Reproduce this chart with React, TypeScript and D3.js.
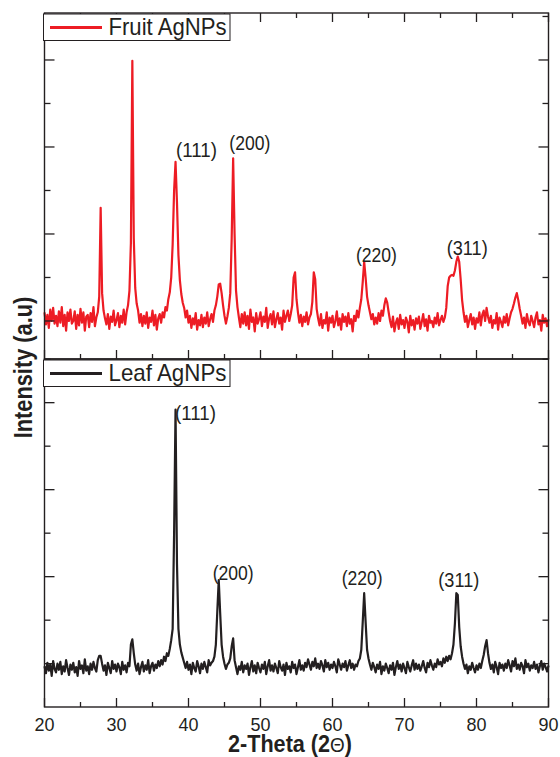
import React from 'react'
import * as d3 from 'd3'

// XRD scans, step 0.2 deg from 20 deg (arbitrary units)
const START_ANGLE = 20
const STEP = 0.2

const fruitCounts = [
  110, 96, 107, 92, 113, 100, 115, 97, 106, 94,
  111, 98, 116, 94, 107, 89, 110, 100, 113, 97,
  100, 111, 91, 107, 95, 114, 98, 110, 89, 105,
  107, 93, 109, 99, 116, 94, 104, 110, 128, 230,
  132, 112, 103, 96, 108, 91, 105, 99, 112, 95,
  101, 109, 93, 106, 98, 113, 96, 110, 118, 135,
  190, 399, 195, 138, 120, 112, 98, 108, 94, 106,
  97, 110, 92, 104, 99, 112, 95, 107, 90, 103,
  108, 98, 110, 104, 116, 112, 125, 133, 150, 188,
  250, 283, 236, 176, 147, 131, 121, 115, 104, 112,
  98, 106, 92, 103, 96, 109, 90, 101, 95, 107,
  93, 104, 97, 110, 94, 102, 108, 99, 112, 118,
  128, 142, 143, 132, 118, 106, 97, 105, 115, 132,
  195, 287, 200, 135, 116, 104, 93, 108, 97, 110,
  95, 106, 91, 113, 99, 104, 88, 109, 97, 102,
  110, 94, 105, 99, 115, 92, 103, 108, 96, 111,
  93, 102, 109, 97, 104, 90, 112, 99, 106, 112,
  100, 108, 118, 150, 156, 125, 110, 98, 107, 94,
  105, 99, 110, 96, 104, 108, 122, 156, 148, 114,
  103, 95, 108, 92, 101, 97, 110, 89, 104, 98,
  106, 93, 100, 111, 95, 103, 90, 108, 99, 105,
  94, 109, 97, 102, 88, 106, 100, 112, 104, 115,
  125, 145, 168, 150, 128, 118, 110, 102, 108, 96,
  104, 97, 109, 100, 112, 106, 118, 126, 121, 110,
  100, 93, 105, 88, 98, 103, 91, 107, 96, 101,
  92, 104, 99, 87, 106, 95, 101, 90, 103, 97,
  105, 91, 99, 108, 94, 102, 89, 106, 98, 100,
  93, 104, 97, 109, 95, 101, 106, 99, 104, 115,
  140, 150, 152, 153, 152, 158, 168, 174, 168, 148,
  124, 110, 99, 106, 93, 101, 108, 96, 104, 91,
  103, 98, 110, 95, 107, 112, 100, 115, 105, 98,
  106, 92, 101, 97, 109, 90, 104, 99, 93, 105,
  98, 108, 95, 103, 110, 114, 120, 127, 132, 124,
  114, 106, 97, 104, 92, 108, 99, 95, 106, 100,
  93, 104, 110, 96, 101, 89, 107, 98, 103, 94,
  102,
]

const leafCounts = [
  97, 89, 101, 92, 99, 86, 103, 94, 90, 100,
  93, 102, 88, 97, 91, 104, 95, 87, 99, 93,
  101, 90, 96, 86, 103, 94, 98, 89, 105, 92,
  97, 88, 100, 93, 102, 95, 91, 104, 109, 109,
  100, 92, 98, 87, 101, 95, 89, 103, 94, 99,
  91, 100, 96, 88, 102, 93, 98, 90, 101, 97,
  122, 128, 112, 99, 92, 100, 88, 96, 102, 91,
  98, 93, 104, 89, 97, 101, 92, 99, 95, 103,
  97, 104, 99, 108, 103, 112, 109, 117, 127, 140,
  250, 392, 215, 140, 122, 113, 107, 101, 95, 102,
  93, 99, 88, 101, 95, 91, 103, 97, 89, 100,
  94, 102, 96, 90, 104, 98, 101, 103, 108, 122,
  160, 196, 158, 122, 108, 100, 94, 99, 101, 106,
  120, 129, 104, 96, 88, 97, 93, 102, 90, 98,
  94, 100, 87, 96, 103, 91, 98, 89, 101, 95,
  90, 99, 94, 102, 88, 97, 104, 92, 98, 91,
  100, 95, 89, 103, 96, 92, 99, 87, 101, 94,
  97, 90, 102, 95, 99, 88, 96, 104, 93, 98,
  92, 101, 96, 105, 99, 93, 102, 97, 106, 95,
  100, 94, 103, 98, 91, 104, 96, 101, 93, 99,
  95, 102, 97, 90, 105, 99, 93, 100, 96, 103,
  92, 98, 104, 95, 100, 93, 99, 97, 103, 106,
  116, 148, 181, 148, 116, 106, 99, 93, 101, 96,
  90, 99, 94, 102, 88, 97, 92, 100, 95, 89,
  98, 93, 101, 87, 96, 103, 94, 99, 91, 100,
  95, 89, 102, 96, 91, 98, 104, 93, 100, 94,
  99, 92, 97, 103, 95, 90, 101, 96, 104, 98,
  93, 100, 96, 105, 99, 102, 97, 106, 101, 108,
  103, 109, 105, 112, 122, 146, 181, 179, 142, 120,
  108, 100, 94, 99, 89, 97, 93, 101, 95, 90,
  98, 93, 100, 95, 103, 110, 120, 127, 112, 101,
  94, 99, 90, 102, 96, 88, 101, 95, 99, 92,
  100, 95, 104, 98, 91, 103, 97, 106, 94, 99,
  93, 101, 97, 89, 104, 96, 100, 92, 98, 95,
  102, 94, 99, 90, 97, 103, 93, 100, 96, 91,
  98,
]

// hkl annotations (text start angle, text baseline level)
const peakNames = ['(111)', '(200)', '(220)', '(311)']
const fruitLabelAngle = [38.26, 45.67, 63.26, 75.86]
const fruitLabelLevel = [289, 297, 168, 176]
const leafLabelAngle = [38.13, 43.36, 61.28, 74.69]
const leafLabelLevel = [380, 196, 190.5, 188.7]

const xMajor = [20, 30, 40, 50, 60, 70, 80, 90]
const xMinor = [25, 35, 45, 55, 65, 75, 85]
const yMajor = [100, 200, 300, 400]
const yMinor = [150, 250, 350, 450]

const INK = '#231f20'
const RED = '#ed1c24'
const FONT = '"Liberation Sans", Arial, Helvetica, sans-serif'

const left = 44.5
const right = 548.5
const x = d3.scaleLinear().domain([20, 90]).range([left, right])
const yTop = d3.scaleLinear().domain([56.3, 454]).range([359, 13])
const yBot = d3.scaleLinear().domain([50.2, 450.2]).range([707, 359])

function Panel({ counts, y, color, name, labelAngle, labelLevel, top, bottom, upTicks }) {
  const line = d3
    .line<number>()
    .x((_, i) => x(START_ANGLE + i * STEP))
    .y(d => y(d))
  return (
    <g>
      <path d={line(counts) || ''} fill="none" stroke={color} strokeWidth={2.2} strokeLinejoin="round" />
      {/* frame */}
      <rect x={left} y={top} width={right - left} height={bottom - top} fill="none" stroke={INK} strokeWidth={1.4} />
      {/* bottom-edge ticks */}
      {xMajor.map(t => (
        <line key={'bM' + t} x1={x(t)} x2={x(t)} y1={bottom} y2={bottom - 9} stroke={INK} strokeWidth={1.3} />
      ))}
      {xMinor.map(t => (
        <line key={'bm' + t} x1={x(t)} x2={x(t)} y1={bottom} y2={bottom - 5} stroke={INK} strokeWidth={1.3} />
      ))}
      {upTicks &&
        xMajor.map(t => (
          <line key={'tM' + t} x1={x(t)} x2={x(t)} y1={top} y2={top + 9} stroke={INK} strokeWidth={1.3} />
        ))}
      {upTicks &&
        xMinor.map(t => (
          <line key={'tm' + t} x1={x(t)} x2={x(t)} y1={top} y2={top + 5} stroke={INK} strokeWidth={1.3} />
        ))}
      {yMajor.map(t => (
        <g key={'yM' + t}>
          <line x1={left} x2={left + 10} y1={y(t)} y2={y(t)} stroke={INK} strokeWidth={1.3} />
          <line x1={right} x2={right - 10} y1={y(t)} y2={y(t)} stroke={INK} strokeWidth={1.3} />
        </g>
      ))}
      {yMinor.map(t => (
        <g key={'ym' + t}>
          <line x1={left} x2={left + 6} y1={y(t)} y2={y(t)} stroke={INK} strokeWidth={1.3} />
          <line x1={right} x2={right - 6} y1={y(t)} y2={y(t)} stroke={INK} strokeWidth={1.3} />
        </g>
      ))}
      {peakNames.map((p, i) => (
        <text
          key={p}
          x={x(labelAngle[i])}
          y={y(labelLevel[i])}
          fontSize={20}
          fill={INK}
          textLength={41}
          lengthAdjust="spacingAndGlyphs"
        >
          {p}
        </text>
      ))}
      {/* legend */}
      <rect x={43.5} y={top + 1} width={186.5} height={26.5} fill="#fff" stroke={INK} strokeWidth={1} />
      <line x1={50} x2={102} y1={top + 14.5} y2={top + 14.5} stroke={color} strokeWidth={3} />
      <text
        x={108.5}
        y={top + 22}
        fontSize={24}
        fill={INK}
        textLength={118}
        lengthAdjust="spacingAndGlyphs"
      >
        {name}
      </text>
    </g>
  )
}

export default function App() {
  return (
    <svg
      width={560}
      height={757}
      viewBox="0 0 560 757"
      style={{ position: 'absolute', left: 0, top: 0, background: '#fff' }}
      fontFamily={FONT}
    >
      <Panel
        counts={fruitCounts}
        y={yTop}
        color={RED}
        name="Fruit AgNPs"
        labelAngle={fruitLabelAngle}
        labelLevel={fruitLabelLevel}
        top={13}
        bottom={359}
        upTicks
      />
      <Panel
        counts={leafCounts}
        y={yBot}
        color={INK}
        name="Leaf AgNPs"
        labelAngle={leafLabelAngle}
        labelLevel={leafLabelLevel}
        top={359}
        bottom={707}
        upTicks={false}
      />
      {xMajor.map(t => (
        <text
          key={'xl' + t}
          x={x(t)}
          y={731}
          fontSize={19}
          fill={INK}
          textAnchor="middle"
          textLength={20}
          lengthAdjust="spacingAndGlyphs"
        >
          {t}
        </text>
      ))}
      <text
        x={228}
        y={751.5}
        fontSize={24}
        fontWeight="bold"
        fill={INK}
        textLength={124}
        lengthAdjust="spacingAndGlyphs"
      >
        2-Theta (2<tspan fontWeight="normal" fontSize={21}>Θ</tspan>)
      </text>
      <text
        transform="translate(32,367.5) rotate(-90)"
        fontSize={25}
        fontWeight="bold"
        fill={INK}
        textAnchor="middle"
        textLength={141.5}
        lengthAdjust="spacingAndGlyphs"
      >
        Intensity (a.u)
      </text>
    </svg>
  )
}
